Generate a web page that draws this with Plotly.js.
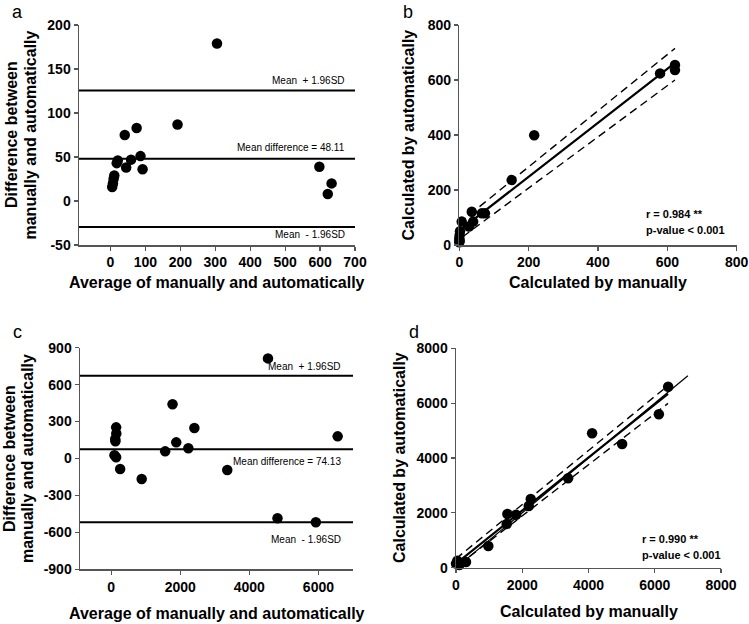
<!DOCTYPE html>
<html>
<head>
<meta charset="utf-8">
<script src="https://cdn.plot.ly/plotly-3.0.1.min.js"></script>
<style>html,body{margin:0;padding:0;background:#fff;}#chart{width:749px;height:624px;}</style>
</head>
<body>
<div id="chart"></div>
<script>
// ---- Panel a: Bland-Altman (small scale) ----
const aAvg  = [305, 192, 75, 41, 86, 59, 21, 18, 45, 92, 11, 9, 7, 5, 598, 633, 622];
const aDiff = [179, 87, 83, 75, 51, 47, 46, 43, 38, 36, 29, 25, 20, 16, 39, 20, 8];
const aMean = 48.11, aUpper = 125.7, aLower = -29.5;

// ---- Panel b: correlation (small scale) ----
const bMan  = [622, 622, 579, 216, 151, 36, 40, 28, 65, 74, 7, 2, 1, 0, 1, 0];
const bAuto = [655, 636, 624, 399, 236, 121, 85, 67, 115, 115, 85, 50, 36, 24, 16, 10];
const bFitX = [0, 622], bFitY = [52, 662];
const bUpX = [0, 622], bUpY = [80, 715];
const bLoX = [10, 622], bLoY = [30, 600];

// ---- Panel c: Bland-Altman (large scale) ----
const cAvg  = [4540, 1778, 2410, 1885, 2235, 1565, 6556, 3362, 885, 4815, 5925, 146, 150, 120, 125, 97, 146, 262];
const cDiff = [813, 440, 248, 131, 83, 58, 180, -93, -166, -486, -518, 253, 204, 158, 140, 26, 10, -85];
const cMean = 74.13, cUpper = 672, cLower = -518;

// ---- Panel d: correlation (large scale) ----
const dMan  = [6405, 6124, 4109, 5015, 3384, 2256, 2196, 1813, 1551, 1531, 976, 302, 40, 100, 0, 60];
const dAuto = [6601, 5594, 4901, 4511, 3260, 2505, 2250, 1933, 1958, 1594, 791, 208, 255, 98, 150, 200];
const dIdX = [0, 7000], dIdY = [0, 7000];
const dFitX = [0, 6400], dFitY = [150, 6340];
const dUpX = [0, 6400], dUpY = [330, 6640];
const dLoX = [100, 6400], dLoY = [120, 5990];

// tick labels
const aXticks = [0,100,200,300,400,500,600,700], aYticks = [-50,0,50,100,150,200];
const bTicks = [0,200,400,600,800];
const cXticks = [0,2000,4000,6000], cYticks = [-900,-600,-300,0,300,600,900];
const dTicks = [0,2000,4000,6000,8000];

const W = 749, H = 624;
const FONT = 'Liberation Sans, Arial, sans-serif';
const px = v => v / W, py = v => 1 - v / H;

const mk = {color:'#000', size:10.5};
function pts(x, y, xa, ya){ return {x, y, xaxis:xa, yaxis:ya, type:'scatter', mode:'markers', marker:mk, cliponaxis:false, showlegend:false, hoverinfo:'skip'}; }
function ln(x, y, xa, ya, w, dash){ return {x, y, xaxis:xa, yaxis:ya, type:'scatter', mode:'lines', line:{color:'#000', width:w, dash:dash||'solid'}, showlegend:false, hoverinfo:'skip'}; }

const data = [
  pts(aAvg, aDiff, 'x', 'y'),
  ln(bUpX, bUpY, 'x2', 'y2', 1.4, '8px,5px'),
  ln(bLoX, bLoY, 'x2', 'y2', 1.4, '8px,5px'),
  ln(bFitX, bFitY, 'x2', 'y2', 2.2),
  pts(bMan, bAuto, 'x2', 'y2'),
  pts(cAvg, cDiff, 'x3', 'y3'),
  ln(dIdX, dIdY, 'x4', 'y4', 1.2),
  ln(dUpX, dUpY, 'x4', 'y4', 1.4, '8px,5px'),
  ln(dLoX, dLoY, 'x4', 'y4', 1.4, '8px,5px'),
  ln(dFitX, dFitY, 'x4', 'y4', 2.2),
  pts(dMan, dAuto, 'x4', 'y4')
];

const tickFont = {family:FONT, size:14, weight:'bold', color:'#000'};
function axis(dom, range, ticks, anchor, standoff){
  return {domain:dom, range:range, tickvals:ticks, ticktext:ticks.map(String), showline:true, linecolor:'#555', linewidth:1.5,
    ticks:'outside', ticklen:4, tickwidth:1.2, tickcolor:'#555', showgrid:false, zeroline:false, anchor:anchor,
    tickfont:tickFont, fixedrange:true, ticklabelstandoff:standoff};
}

const layout = {
  width:W, height:H, margin:{l:0, r:0, t:0, b:0}, paper_bgcolor:'#fff', plot_bgcolor:'rgba(0,0,0,0)',
  showlegend:false, font:{family:FONT, color:'#000'},
  xaxis:  axis([px(79), px(355)], [-90, 700], aXticks, 'y', 0),
  yaxis:  axis([py(245), py(25)], [-50, 200], aYticks, 'x', 0),
  xaxis2: axis([px(459.3), px(736.7)], [0, 800], bTicks, 'y2', 0),
  yaxis2: axis([py(245), py(25)], [0, 800], bTicks, 'x2', 0),
  xaxis3: axis([px(80), px(353)], [-900, 7000], cXticks, 'y3', 0),
  yaxis3: axis([py(569.3), py(347.7)], [-900, 900], cYticks, 'x3', 0),
  xaxis4: axis([px(456), px(721)], [0, 8000], dTicks, 'y4', 0),
  yaxis4: axis([py(567.7), py(348.3)], [0, 8000], dTicks, 'x4', 0),
  shapes: [
    {type:'line', xref:'x domain', yref:'y', x0:0, x1:1, y0:aMean, y1:aMean, line:{color:'#000', width:2}},
    {type:'line', xref:'x domain', yref:'y', x0:0, x1:1, y0:aUpper, y1:aUpper, line:{color:'#000', width:2}},
    {type:'line', xref:'x domain', yref:'y', x0:0, x1:1, y0:aLower, y1:aLower, line:{color:'#000', width:2}},
    {type:'line', xref:'x3 domain', yref:'y3', x0:0, x1:1, y0:cMean, y1:cMean, line:{color:'#000', width:2}},
    {type:'line', xref:'x3 domain', yref:'y3', x0:0, x1:1, y0:cUpper, y1:cUpper, line:{color:'#000', width:2}},
    {type:'line', xref:'x3 domain', yref:'y3', x0:0, x1:1, y0:cLower, y1:cLower, line:{color:'#000', width:2}}
  ],
  annotations: []
};

const ann = layout.annotations;
function A(text, x, y, opts){ ann.push(Object.assign({text, xref:'paper', yref:'paper', x:px(x), y:py(y), showarrow:false, xanchor:'center', yanchor:'middle'}, opts||{})); }
const titleFont = {family:FONT, size:16, weight:'bold', color:'#000'};
const smallFont = {family:FONT, size:10, color:'#000'};
const statFont = {family:FONT, size:11, weight:'bold', color:'#000'};
const letterFont = {family:FONT, size:18, color:'#000'};

// panel letters
A('a', 17.5, 12, {font:letterFont});
A('b', 408, 12, {font:letterFont});
A('c', 17, 332, {font:letterFont});
A('d', 414, 332, {font:letterFont});

// axis titles
A('Average of manually and automatically', 217, 283, {font:titleFont});
A('Calculated by manually', 598, 283, {font:titleFont});
A('Average of manually and automatically', 217, 613, {font:titleFont});
A('Calculated by manually', 588.5, 611, {font:titleFont});
A('Difference between', 11, 135, {font:titleFont, textangle:-90});
A('manually and automatically', 29.5, 135, {font:titleFont, textangle:-90});
A('Calculated by automatically', 407.5, 135, {font:titleFont, textangle:-90});
A('Difference between', 9.5, 458.5, {font:titleFont, textangle:-90});
A('manually and automatically', 27.5, 458.5, {font:titleFont, textangle:-90});
A('Calculated by automatically', 400, 458, {font:titleFont, textangle:-90});

// limit labels
A('Mean  + 1.96SD', 347, 80, {font:smallFont, xanchor:'right'});
A('Mean difference = ' + aMean.toFixed(2), 347, 147, {font:smallFont, xanchor:'right'});
A('Mean  - 1.96SD', 347, 234, {font:smallFont, xanchor:'right'});
A('Mean  + 1.96SD', 343, 366, {font:smallFont, xanchor:'right'});
A('Mean difference = ' + cMean.toFixed(2), 343, 461, {font:smallFont, xanchor:'right'});
A('Mean  - 1.96SD', 343, 539, {font:smallFont, xanchor:'right'});

// stats
A('r = 0.984 **', 644, 214, {font:statFont, xanchor:'left'});
A('p-value < 0.001', 644, 230, {font:statFont, xanchor:'left'});
A('r = 0.990 **', 640, 539, {font:statFont, xanchor:'left'});
A('p-value < 0.001', 640, 555, {font:statFont, xanchor:'left'});

Plotly.newPlot('chart', data, layout, {staticPlot:true, displayModeBar:false});
</script>
</body>
</html>
